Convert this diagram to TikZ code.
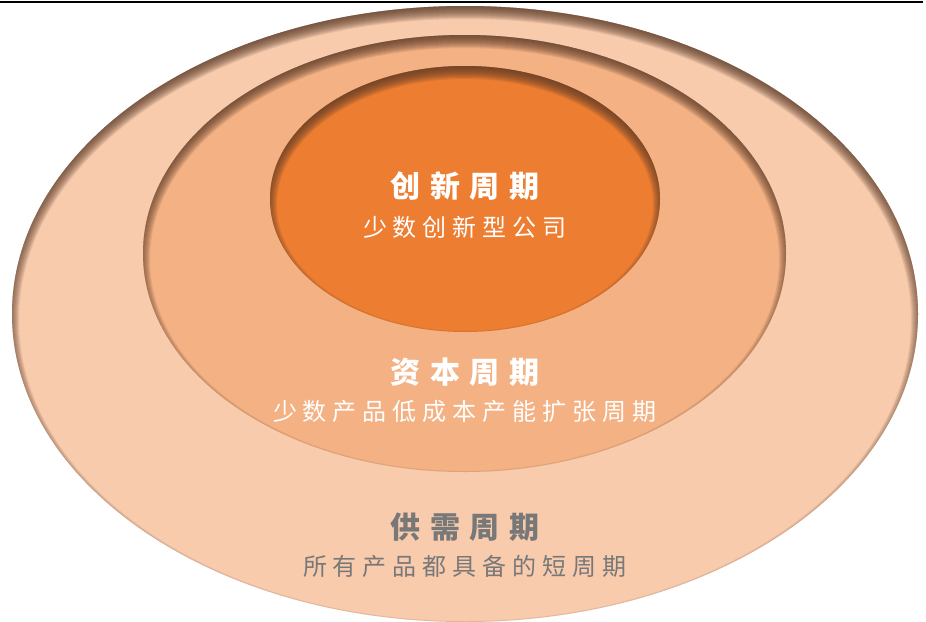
\documentclass[tikz,border=0pt]{standalone}
\usepackage{fontspec}
\newfontfamily\cjk{Noto Sans CJK SC}
\definecolor{outerfill}{HTML}{F8CBAD}
\definecolor{midfill}{HTML}{F4B183}
\definecolor{innerfill}{HTML}{ED7D31}
\definecolor{shadowc}{HTML}{5A3A28}
\definecolor{graytext}{HTML}{787878}
\makeatletter
\newcommand\spreadtext[2]{\@tfor\my@ch:=#2\do{\makebox[#1][c]{\my@ch}}}
\makeatother
\newcommand\innershadow[4]{%
  \begin{scope}
    \clip (#1,#2) ellipse [x radius=#3, y radius=#4];
    \foreach \s in {-5,...,7}{
      \fill[shadowc, opacity=0.11, even odd rule]
        (#1,#2) ellipse [x radius=#3+30, y radius=#4+30]
        (#1,#2-6) ellipse [x radius=#3-\s, y radius=#4-\s];
    }
  \end{scope}}
\tikzset{
  ringtitle/.style={inner sep=0pt, font=\cjk\bfseries\fontsize{30}{32}\selectfont},
  ringsub/.style={inner sep=0pt, font=\cjk\fontsize{24}{28}\selectfont},
}
\begin{document}
\begin{tikzpicture}[x=1pt,y=1pt]
  \useasboundingbox (0,0) rectangle (926,-621);
  \clip (0,0) rectangle (926,-621);
  \fill[white] (0,0) rectangle (926,-621);
  % outer ellipse
  \fill[outerfill] (465,-314) ellipse [x radius=453, y radius=308];
  \innershadow{465}{-314}{453}{308}
  % middle ellipse
  \fill[midfill] (464.5,-253.5) ellipse [x radius=321.5, y radius=218.5];
  \innershadow{464.5}{-253.5}{321.5}{218.5}
  % inner ellipse
  \fill[innerfill] (465,-199) ellipse [x radius=195, y radius=133];
  \innershadow{465}{-199}{195}{133}
  % top rule
  \coordinate (ruleL) at (0,-2);
  \coordinate (ruleR) at (923,-2);
  \draw[line width=2.5pt, black] (ruleL) -- (ruleR);
  % texts
  \node[ringtitle, text=white] (t1) at (465,-186) {\spreadtext{39.5pt}{创新周期}};
  \node[ringsub, text=white] (s1) at (465,-227) {\spreadtext{30pt}{少数创新型公司}};
  \node[ringtitle, text=white] (t2) at (465,-372) {\spreadtext{39.5pt}{资本周期}};
  \node[ringsub, text=white] (s2) at (465,-411) {\spreadtext{30pt}{少数产品低成本产能扩张周期}};
  \node[ringtitle, text=graytext] (t3) at (465,-527) {\spreadtext{39.5pt}{供需周期}};
  \node[ringsub, text=graytext] (s3) at (465,-566) {\spreadtext{30pt}{所有产品都具备的短周期}};
\end{tikzpicture}
\end{document}
